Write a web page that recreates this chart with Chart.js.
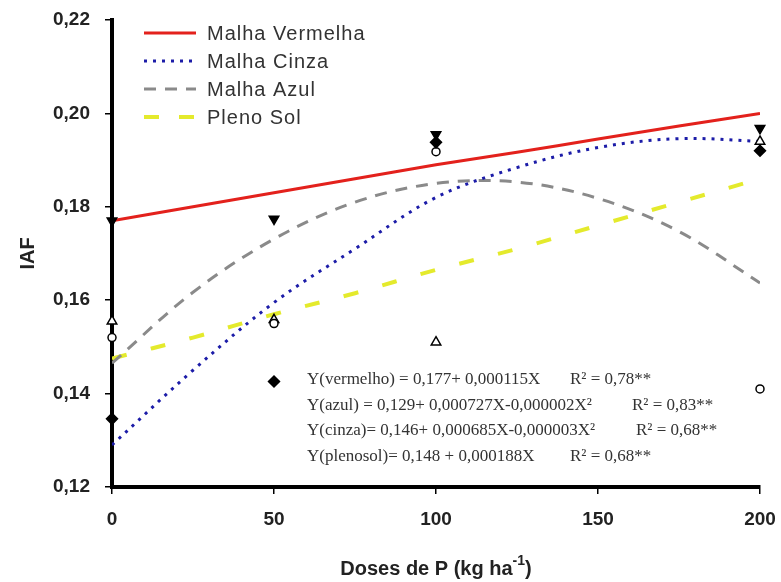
<!DOCTYPE html>
<html>
<head>
<meta charset="utf-8">
<script src="https://cdn.jsdelivr.net/npm/chart.js@4.4.1/dist/chart.umd.min.js"></script>
<style>
  html, body { margin: 0; padding: 0; background: #fff; }
  #wrap { width: 781px; height: 582px; }
</style>
</head>
<body>
<div id="wrap"><canvas id="iafChart" width="781" height="582"></canvas></div>
<script>
// ---- Data ----
const doses = [0, 25, 50, 75, 100, 125, 150, 175, 200];
const yTicks = [0.12, 0.14, 0.16, 0.18, 0.20, 0.22];
const xTicks = [0, 50, 100, 150, 200];

// fitted curves (read at every 25 kg)
const vermelhaFit = [0.177, 0.180, 0.183, 0.186, 0.189, 0.1917, 0.1945, 0.1973, 0.200];
const cinzaFit    = [0.129, 0.145, 0.1595, 0.171, 0.182, 0.1884, 0.1927, 0.1946, 0.194];
const azulFit     = [0.1465, 0.1617, 0.1731, 0.181, 0.185, 0.1853, 0.1818, 0.1747, 0.1637];
const plenoSolFit = [0.1475, 0.152, 0.157, 0.1615, 0.1665, 0.171, 0.176, 0.181, 0.186];

// observed means
const obsDoses    = [0, 50, 100, 200];
const vermelhaObs = [0.177, 0.1774, 0.1955, 0.1968];
const cinzaObs    = [0.1346, 0.1426, 0.1938, 0.192];
const azulObs     = [0.152, 0.155, 0.1918, 0.141];
const plenoSolObs = [0.1555, 0.1558, 0.151, 0.194];

const seriesNames = ['Malha Vermelha', 'Malha Cinza', 'Malha Azul', 'Pleno Sol'];

const equations = [
    ['Y(vermelho) = 0,177+ 0,000115X', 'R\u00b2 = 0,78**', 570],
    ['Y(azul) = 0,129+ 0,000727X-0,000002X\u00b2', 'R\u00b2 = 0,83**', 632],
    ['Y(cinza)= 0,146+ 0,000685X-0,000003X\u00b2', 'R\u00b2 = 0,68**', 636],
    ['Y(plenosol)= 0,148 + 0,000188X', 'R\u00b2 = 0,68**', 570],
];

const pts = (xs, ys) => xs.map((x, i) => ({ x: x, y: ys[i] }));

const lineStyles = [
    { color: '#e3211c', width: 3, dash: [] },
    { color: '#1c1ca8', width: 3, dash: [3, 6] },
    { color: '#8a8a8a', width: 3, dash: [12, 9] },
    { color: '#e4ea2c', width: 4, dash: [15, 25] },
];

function fitDataset(i, data) {
    const s = lineStyles[i];
    return {
        label: seriesNames[i],
        data: pts(doses, data),
        borderColor: s.color,
        borderWidth: s.width,
        borderDash: s.dash,
        pointRadius: 0,
        tension: 0.35,
        fill: false,
        order: 2,
    };
}

function obsDataset(label, data, style, filled, rotation) {
    return {
        label: label,
        data: pts(obsDoses, data),
        showLine: false,
        pointStyle: style,
        rotation: rotation || 0,
        pointRadius: style === 'circle' ? 4 : 5.5,
        pointBackgroundColor: filled ? '#000' : '#fff',
        pointBorderColor: '#000',
        pointBorderWidth: 1.5,
        clip: false,
        order: 1,
    };
}

// ---- Overlay: legend, equations, axis titles ----
const overlay = {
    id: 'overlay',
    afterDraw(chart) {
        const ctx = chart.ctx;
        const area = chart.chartArea;
        ctx.save();

        // legend
        const rows = [33, 61, 89, 117];
        ctx.font = '20px "Liberation Sans", Arial, sans-serif';
        ctx.letterSpacing = '1px';
        ctx.textBaseline = 'middle';
        ctx.textAlign = 'left';
        lineStyles.forEach((s, i) => {
            ctx.strokeStyle = s.color;
            ctx.lineWidth = s.width;
            ctx.setLineDash(i === 3 ? [15, 20] : s.dash);
            ctx.beginPath();
            ctx.moveTo(144, rows[i]);
            ctx.lineTo(196, rows[i]);
            ctx.stroke();
            ctx.fillStyle = '#333';
            ctx.fillText(seriesNames[i], 207, rows[i] + 1);
        });
        ctx.setLineDash([]);
        ctx.letterSpacing = '0px';

        // regression equations
        ctx.font = '17px "Liberation Serif", "Times New Roman", serif';
        ctx.fillStyle = '#333';
        equations.forEach((eq, i) => {
            const y = 380 + i * 25.5;
            ctx.fillText(eq[0], 307, y);
            ctx.fillText(eq[1], eq[2], y);
        });

        // y title
        ctx.fillStyle = '#222';
        ctx.font = 'bold 20px "Liberation Sans", Arial, sans-serif';
        ctx.textAlign = 'center';
        ctx.save();
        ctx.translate(28, (area.top + area.bottom) / 2);
        ctx.rotate(-Math.PI / 2);
        ctx.fillText('IAF', 0, 0);
        ctx.restore();

        // x title with superscript
        const base = 'Doses de P (kg ha';
        const sup = '-1';
        const tail = ')';
        const big = 'bold 20px "Liberation Sans", Arial, sans-serif';
        const small = 'bold 14px "Liberation Sans", Arial, sans-serif';
        ctx.textAlign = 'left';
        ctx.textBaseline = 'alphabetic';
        ctx.font = big;
        const wBase = ctx.measureText(base).width;
        const wTail = ctx.measureText(tail).width;
        ctx.font = small;
        const wSup = ctx.measureText(sup).width;
        let x = (area.left + area.right) / 2 - (wBase + wSup + wTail) / 2;
        const yb = 575;
        ctx.font = big;
        ctx.fillText(base, x, yb);
        x += wBase;
        ctx.font = small;
        ctx.fillText(sup, x, yb - 10);
        x += wSup;
        ctx.font = big;
        ctx.fillText(tail, x, yb);

        ctx.restore();
    }
};

const tickFont = { family: '"Liberation Sans", Arial, sans-serif', size: 19, weight: 'bold' };

new Chart(document.getElementById('iafChart'), {
    type: 'line',
    data: {
        datasets: [
            obsDataset('Vermelha obs', vermelhaObs, 'triangle', true, 180),
            obsDataset('Cinza obs', cinzaObs, 'rectRot', true),
            obsDataset('Azul obs', azulObs, 'circle', false),
            obsDataset('Pleno Sol obs', plenoSolObs, 'triangle', false),
            fitDataset(0, vermelhaFit),
            fitDataset(1, cinzaFit),
            fitDataset(2, azulFit),
            fitDataset(3, plenoSolFit),
        ],
    },
    options: {
        responsive: false,
        animation: false,
        layout: { autoPadding: false, padding: { top: 20, right: 21, left: 0, bottom: 0 } },
        plugins: {
            legend: { display: false },
            tooltip: { enabled: false },
        },
        scales: {
            x: {
                type: 'linear',
                min: 0,
                max: 200,
                afterFit: (scale) => {
                    scale.height = 95;
                    scale.paddingLeft = 0;
                    scale.paddingRight = 0;
                },
                afterBuildTicks: (scale) => { scale.ticks = xTicks.map(v => ({ value: v })); },
                border: { color: '#000', width: 4 },
                grid: { drawOnChartArea: false, drawTicks: true, tickLength: 7, color: '#000', lineWidth: 1.5 },
                ticks: { color: '#222', font: tickFont, padding: 14, maxRotation: 0 },
            },
            y: {
                min: 0.12,
                max: 0.22,
                afterFit: (scale) => {
                    scale.width = 112;
                    scale.paddingTop = 0;
                    scale.paddingBottom = 0;
                },
                afterBuildTicks: (scale) => { scale.ticks = yTicks.map(v => ({ value: v })); },
                border: { color: '#000', width: 4 },
                grid: { drawOnChartArea: false, drawTicks: true, tickLength: 7, color: '#000', lineWidth: 1.5 },
                ticks: {
                    color: '#222',
                    font: tickFont,
                    padding: 15,
                    callback: (v) => v.toFixed(2).replace('.', ','),
                },
            },
        },
    },
    plugins: [overlay],
});
</script>
</body>
</html>
